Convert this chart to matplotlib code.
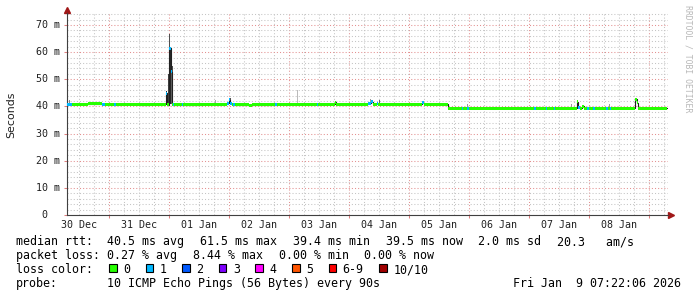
#!/usr/bin/python3
import matplotlib
matplotlib.use('Agg')
import matplotlib.pyplot as plt
import matplotlib.dates as mdates
from matplotlib.patches import Rectangle
from matplotlib.ticker import MultipleLocator
from matplotlib.transforms import blended_transform_factory
from datetime import datetime, timedelta

W, H = 697, 297
START = datetime(2025, 12, 30, 7, 22, 6)
SPAN_H = 240.0

# median rtt segments: start hour (from START), median in ms, lost pings out of 10
seg_hours = [0.0, 2.0, 8.4, 14.0, 15.2, 18.8, 19.6, 29.2, 33.2, 39.6,
             40.0, 40.8, 41.6, 42.0, 42.4, 42.8, 46.0, 46.4, 53.2, 54.4,
             64.0, 64.8, 65.2, 66.0, 66.4, 67.2, 72.8, 74.0, 83.2, 84.0,
             100.0, 100.4, 107.2, 107.6, 120.4, 121.6, 122.4, 124.0, 124.4, 142.0,
             142.8, 152.4, 158.0, 158.4, 160.0, 160.8, 186.8, 187.6, 191.6, 192.0,
             194.8, 195.2, 204.0, 204.4, 205.2, 206.0, 206.8, 208.0, 208.8, 210.4,
             211.2, 215.6, 216.4, 217.2, 217.6, 227.2, 228.0, 228.4]
seg_median = [40.8, 40.8, 40.9, 40.8, 40.8, 40.7, 40.8, 40.6, 40.8, 44.8,
              40.7, 61.5, 52.8, 40.6, 40.7, 40.7, 40.7, 40.7, 40.6, 40.8,
              41.2, 42.4, 41.2, 40.7, 40.7, 40.7, 40.5, 40.7, 40.8, 40.8,
              40.8, 40.8, 41.6, 40.8, 41.2, 41.7, 40.8, 41.2, 40.8, 41.3,
              40.8, 39.3, 39.3, 39.3, 39.3, 39.3, 39.3, 39.3, 39.3, 39.3,
              39.3, 39.3, 41.8, 39.5, 39.3, 40.1, 39.3, 39.3, 39.3, 39.3,
              39.3, 39.3, 39.3, 39.3, 39.3, 42.7, 41.4, 39.3]
seg_loss = [1, 0, 0, 1, 0, 1, 0, 0, 0, 1,
            0, 1, 1, 0, 1, 0, 1, 0, 0, 0,
            1, 1, 1, 0, 1, 0, 0, 0, 1, 0,
            1, 0, 0, 0, 1, 1, 0, 1, 0, 1,
            0, 0, 1, 0, 1, 0, 1, 0, 1, 0,
            1, 0, 0, 1, 0, 0, 0, 1, 0, 1,
            0, 1, 0, 1, 0, 0, 0, 0]

# smoke (spread of the single pings) where it shows outside the median band
smoke_hours = [0.8, 39.6, 40.4, 40.8, 41.2, 41.6, 42.0, 59.2, 65.2, 92.0,
               121.2, 124.8, 160.0, 201.6, 216.8]
smoke_lo = [41.0, 40.5, 41.0, 41.0, 41.0, 41.0, 41.0, 40.8, 41.0, 40.8,
            41.0, 40.8, 39.3, 39.3, 39.3]
smoke_hi = [42.5, 45.5, 52.0, 66.8, 62.0, 56.0, 55.0, 42.4, 43.0, 46.2,
            42.6, 42.2, 40.8, 41.0, 40.8]
smoke_shade = ['#888888', '#303030', '#404040', '#505050', '#282828', '#606060',
               '#505050', '#aaaaaa', '#555555', '#bbbbbb', '#999999', '#666666',
               '#999999', '#999999', '#999999']

loss_labels = ['0', '1', '2', '3', '4', '5', '6-9', '10/10']
loss_colors = ['#26ff00', '#00b8ff', '#0059ff', '#7e00ff', '#ff00ff',
               '#ff5500', '#ff0000', '#a00000']

day_labels = ['30 Dec', '31 Dec', '01 Jan', '02 Jan', '03 Jan',
              '04 Jan', '05 Jan', '06 Jan', '07 Jan', '08 Jan']
ytick_vals = [0, 10, 20, 30, 40, 50, 60, 70]
ytick_labels = [' 0', '10 m', '20 m', '30 m', '40 m', '50 m', '60 m', '70 m']

rtt_items = ['40.5 ms avg', '61.5 ms max', '39.4 ms min', '39.5 ms now',
             '2.0 ms sd', '20.3   am/s']
loss_items = ['0.27 % avg', '8.44 % max', '0.00 % min', '0.00 % now']
probe_text = '10 ICMP Echo Pings (56 Bytes) every 90s'
stamp_text = 'Fri Jan  9 07:22:06 2026'

MONO = 'DejaVu Sans Mono'
BAND = 0.55


def fx(px):
    return px / W


def fy(py):
    return 1 - py / H


def loss_index(n):
    if n <= 5:
        return n
    return 6 if n < 10 else 7


def dnum(h):
    return mdates.date2num(START + timedelta(hours=h))


fig = plt.figure(figsize=(W / 100, H / 100), dpi=100)
fig.patch.set_facecolor('white')
ax = fig.add_axes([fx(67), fy(215), fx(601), (215 - 13) / H])

# smoke
for h, lo, hi, c in zip(smoke_hours, smoke_lo, smoke_hi, smoke_shade):
    ax.bar(dnum(h), hi - lo, bottom=lo, width=0.4 / 24, align='edge',
           color=c, linewidth=0, zorder=2)

# median line
xs = [dnum(h) for h in seg_hours] + [dnum(SPAN_H)]
ys = seg_median + [seg_median[-1]]
ax.step(xs, ys, where='post', color='#202020', linewidth=0.8, zorder=3)

# loss coloured band around the median
for i, (h, m, n) in enumerate(zip(seg_hours, seg_median, seg_loss)):
    h_end = seg_hours[i + 1] if i + 1 < len(seg_hours) else SPAN_H
    ax.bar(dnum(h), 2 * BAND, bottom=m - BAND, width=(h_end - h) / 24,
           align='edge', color=loss_colors[loss_index(n)], linewidth=0, zorder=4)

ax.set_xlim(dnum(0), dnum(SPAN_H + 0.4))
ax.set_ylim(0, (215 - 13) / 2.7143)

ax.xaxis.set_major_locator(mdates.DayLocator())
ax.xaxis.set_minor_locator(mdates.HourLocator(byhour=[0, 6, 12, 18]))
ax.yaxis.set_major_locator(MultipleLocator(10))
ax.yaxis.set_minor_locator(MultipleLocator(2))
ax.set_axisbelow(True)
ax.grid(which='minor', color='#c4c4c4', linestyle=(0, (1, 2)), linewidth=0.75)
ax.grid(which='major', color='#e39090', linestyle=(0, (1, 2)), linewidth=0.75)
ax.tick_params(which='major', length=2.5, width=0.75, color='#e08080',
               labelbottom=False, labelleft=False)
ax.tick_params(which='minor', length=0)

for side in ['top', 'right']:
    ax.spines[side].set_visible(False)
for side in ['left', 'bottom']:
    ax.spines[side].set_color('#404040')
    ax.spines[side].set_linewidth(0.8)

# axis extensions and arrow heads
ax.plot([1, 1 + 3 / 601], [0, 0], color='#404040', lw=0.8,
        transform=ax.transAxes, clip_on=False)
ax.plot([0, 0], [1, 1 + 3 / 202], color='#404040', lw=0.8,
        transform=ax.transAxes, clip_on=False)
ax.plot(1 + 3 / 601, 0, marker='>', ms=4, color='#a01818',
        transform=ax.transAxes, clip_on=False)
ax.plot(0, 1 + 3 / 202, marker='^', ms=4, color='#a01818',
        transform=ax.transAxes, clip_on=False)

# tick labels
ytr = blended_transform_factory(fig.transFigure, ax.transData)
for v, lab in zip(ytick_vals, ytick_labels):
    fig.text(fx(36), v, lab, transform=ytr, ha='left', va='center',
             fontsize=7.2, family=MONO, color='#202020')
xtr = blended_transform_factory(ax.transData, fig.transFigure)
for i, lab in enumerate(day_labels):
    noon = mdates.date2num(datetime(2025, 12, 30, 12) + timedelta(days=i))
    ax.text(noon, fy(227.5), lab, transform=xtr, ha='center', va='baseline',
            fontsize=7.2, family=MONO, color='#202020')

fig.text(fx(11), fy(115), 'Seconds', rotation=90, ha='center', va='center',
         fontsize=7.9, family='DejaVu Sans', color='#202020')
fig.text(fx(688), fy(5), 'RRDTOOL / TOBI OETIKER', rotation=270, ha='center',
         va='top', fontsize=5.9, family=MONO, color='#b8b8b8')

# legend block, items laid out rrdtool style: text width plus a fixed gap
CW = 7.04
GAP = 15.3


def row(py, title, items, x0=107.3):
    fig.text(fx(16), fy(py), title, ha='left', va='baseline',
             fontsize=8.4, family=MONO)
    x = x0
    for it in items:
        fig.text(fx(x), fy(py), it, ha='left', va='baseline',
                 fontsize=8.4, family=MONO)
        x += len(it) * CW + GAP


row(245.3, 'median rtt:', rtt_items)
row(259.3, 'packet loss:', loss_items)

fig.text(fx(16), fy(273.3), 'loss color:', ha='left', va='baseline',
         fontsize=8.4, family=MONO)
cur = 109.3
for lab, col in zip(loss_labels, loss_colors):
    fig.patches.append(Rectangle((fx(cur), fy(272.3)), 7.5 / W, 8 / H,
                                 transform=fig.transFigure, facecolor=col,
                                 edgecolor='black', linewidth=0.8))
    fig.text(fx(cur + 14.2), fy(273.3), lab, ha='left', va='baseline',
             fontsize=8.4, family=MONO)
    cur += 14.2 + len(lab) * CW + GAP

fig.text(fx(16), fy(287.3), 'probe:', ha='left', va='baseline',
         fontsize=8.4, family=MONO)
fig.text(fx(107.3), fy(287.3), probe_text, ha='left', va='baseline',
         fontsize=8.4, family=MONO)
fig.text(fx(513.3), fy(287.3), stamp_text, ha='left', va='baseline',
         fontsize=8.4, family=MONO)

fig.savefig('out.png', dpi=100)
